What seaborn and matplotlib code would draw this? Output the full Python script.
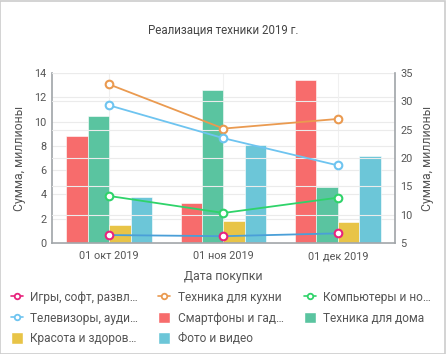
import pandas as pd
import seaborn as sns
import matplotlib.pyplot as plt
from matplotlib.lines import Line2D
from matplotlib.patches import Patch, Rectangle

# Данные
months = ["01 окт 2019", "01 ноя 2019", "01 дек 2019"]

# столбцы (левая ось, млн)
smartphones = [8.8, 3.3, 13.4]
home = [10.5, 12.6, 4.6]
beauty = [1.5, 1.8, 1.7]
photo = [3.8, 8.1, 7.15]

# линии (правая ось, млн)
games = [6.4, 6.2, 6.7]
kitchen = [33.0, 25.2, 26.9]
computers = [13.3, 10.3, 13.0]
tv = [29.3, 23.5, 18.7]

bar_names = ["Смартфоны и гад…", "Техника для дома", "Красота и здоров…", "Фото и видео"]
bar_colors = ["#f76c6c", "#5ac4a0", "#e8c447", "#6cc6d8"]

line_names = ["Игры, софт, развл…", "Техника для кухни", "Компьютеры и но…", "Телевизоры, ауди…"]
line_colors = ["#4a9fd8", "#ea9a50", "#2fd36a", "#6ec4f0"]
marker_colors = ["#e8237d", "#ea9a50", "#2fd36a", "#6ec4f0"]

bars = pd.DataFrame({
    "month": months * 4,
    "series": [n for n in bar_names for _ in months],
    "value": smartphones + home + beauty + photo,
})

sns.set_theme(style="white")
plt.rcParams['font.family'] = ['Roboto', 'DejaVu Sans']

text_col = "#555555"
fig = plt.figure(figsize=(4.46, 3.54), dpi=100)
ax = fig.add_axes([0.1166, 0.3136, 0.769, 0.48])

sns.barplot(data=bars, x="month", y="value", hue="series", hue_order=bar_names,
            palette=bar_colors, width=0.75, gap=0, saturation=1, ax=ax, legend=False,
            edgecolor="white", linewidth=0.4)
ax.set_ylim(0, 14)
ax.set_yticks(range(0, 15, 2))
ax.set_xlim(-0.5, 2.5)

ax2 = ax.twinx()
for vals, lc, mc in zip([games, kitchen, computers, tv], line_colors, marker_colors):
    sns.lineplot(x=months, y=vals, ax=ax2, color=lc, linewidth=1.3, marker="o",
                 markersize=5.5, markerfacecolor="white", markeredgecolor=mc,
                 markeredgewidth=1.5, sort=False)
ax2.set_ylim(5, 35)
ax2.set_yticks(range(5, 36, 5))

# сетка
for y in range(0, 15, 2):
    ax.axhline(y, color="#ebebeb", lw=0.8, zorder=0)
for y in range(5, 36, 5):
    ax2.axhline(y, color="#ebebeb", lw=0.8, zorder=0)
for x in range(3):
    ax.axvline(x, color="#f0f0f0", lw=0.8, zorder=0)
ax.set_axisbelow(True)

for a in (ax, ax2):
    for s in a.spines.values():
        s.set_visible(False)
    a.tick_params(axis="both", length=0, labelsize=7.8, labelcolor=text_col, pad=4)
ax.spines["left"].set_visible(True)
ax.spines["bottom"].set_visible(True)
ax2.spines["right"].set_visible(True)
for s in (ax.spines["left"], ax.spines["bottom"], ax2.spines["right"]):
    s.set_color("#a0a4a8")
    s.set_linewidth(1.2)
ax.tick_params(axis="x", pad=6)

ax.set_xlabel("Дата покупки", fontsize=8.8, color=text_col, labelpad=6)
ax.set_ylabel("Сумма, миллионы", fontsize=8.8, color=text_col, labelpad=6)
ax2.set_ylabel("Сумма, миллионы", fontsize=8.8, color=text_col, labelpad=6)

fig.text(0.5, 0.915, "Реализация техники 2019 г.", ha="center", va="center",
         fontsize=8.3, color="#444444")

# легенда: порядок по строкам 3 колонки
lh = [Line2D([0], [0], color=mc, lw=1.2, marker="o", markersize=4, markerfacecolor="white",
             markeredgecolor=mc, markeredgewidth=1.3)
      for mc in marker_colors]
bh = [Patch(facecolor=c, edgecolor="white") for c in bar_colors]
items = list(zip(lh + bh, line_names + bar_names))
order = [0, 3, 6, 1, 4, 7, 2, 5]
handles = [items[i][0] for i in order]
labels = [items[i][1] for i in order]
fig.legend(handles, labels, ncol=3, loc="lower left", bbox_to_anchor=(0.005, 0.0),
           frameon=False, fontsize=8.6, labelcolor=text_col, handlelength=1.0,
           handleheight=1.1, handletextpad=0.6, columnspacing=1.7,
           borderaxespad=0.35, labelspacing=0.62)

fig.patches.append(Rectangle((0.001, 0.001), 0.997, 0.997, transform=fig.transFigure,
                             fill=False, edgecolor="#cccccc", lw=1.2))

fig.savefig("out.png", dpi=100)
